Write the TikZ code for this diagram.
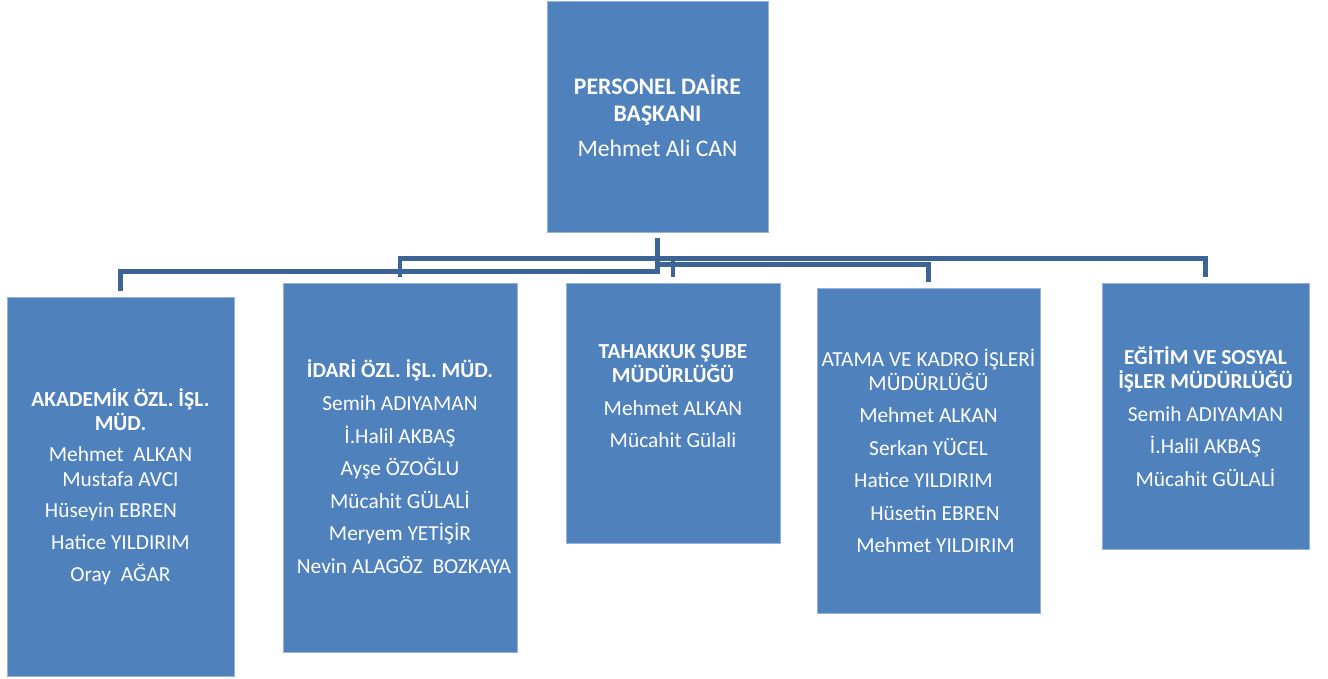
\documentclass[tikz,border=0pt]{standalone}
\usepackage{fontspec}
\setmainfont{Carlito}
\definecolor{boxblue}{RGB}{79,129,189}
\definecolor{boxedge}{RGB}{150,180,215}
\definecolor{connblue}{RGB}{60,100,150}
\tikzset{
  orgbox/.style={rectangle, fill=boxblue, draw=boxedge, line width=0.8pt, inner sep=0pt},
  orgtxt/.style={text=white, align=center, inner sep=0pt, font=\fontsize{21.4}{24}\selectfont},
  toptxt/.style={text=white, align=center, inner sep=0pt, font=\fontsize{23.7}{27}\selectfont},
  conn/.style={draw=connblue, line width=4.6pt, shorten <=6pt, shorten >=6pt}
}
\begin{document}
\begin{tikzpicture}[x=1pt,y={(0pt,-1pt)}]
\useasboundingbox (0,0) rectangle (1328,679);
% boxes
\node[orgbox, minimum width=221pt, minimum height=231pt] (top) at (657.5,116.5) {};
\node[orgbox, minimum width=227pt, minimum height=379pt] (b1) at (120.5,486.5) {};
\node[orgbox, minimum width=234pt, minimum height=369pt] (b2) at (400,467.5) {};
\node[orgbox, minimum width=214pt, minimum height=260pt] (b3) at (673,413) {};
\node[orgbox, minimum width=223pt, minimum height=325pt] (b4) at (928.5,450.5) {};
\node[orgbox, minimum width=207pt, minimum height=266pt] (b5) at (1205.5,416) {};
% texts
\node[toptxt] (t0) at (657.5,115.3) {{\bfseries PERSONEL DAİRE}\\{\bfseries BAŞKANI}\\[8pt]Mehmet Ali CAN};
\node[orgtxt] (t1) at (120.5,486.5) {{\bfseries AKADEMİK ÖZL. İŞL.}\\{\bfseries MÜD.}\\[7pt]Mehmet\ \ ALKAN\\[1pt]Mustafa AVCI\\[7pt]Hüseyin EBREN\hspace*{19pt}\mbox{}\\[8pt]Hatice YILDIRIM\\[8pt]Oray\ \ AĞAR};
\node[orgtxt] (t2) at (400,466.7) {{\bfseries İDARİ ÖZL. İŞL. MÜD.}\\[9pt]Semih ADIYAMAN\\[9pt]İ.Halil AKBAŞ\\[8pt]Ayşe ÖZOĞLU\\[9pt]Mücahit GÜLALİ\\[8pt]Meryem YETİŞİR\\[9pt]\hspace*{8pt}Nevin ALAGÖZ\ \ BOZKAYA};
\node[orgtxt] (t3) at (673,395.8) {{\bfseries TAHAKKUK ŞUBE}\\{\bfseries MÜDÜRLÜĞÜ}\\[9pt]Mehmet ALKAN\\[8pt]Mücahit Gülali};
\node[orgtxt] (t4) at (928.5,450.8) {ATAMA VE KADRO İŞLERİ\\MÜDÜRLÜĞÜ\\[8pt]Mehmet ALKAN\\[9pt]Serkan YÜCEL\\[8pt]Hatice YILDIRIM\hspace*{10pt}\mbox{}\\[9pt]\hspace*{13pt}Hüsetin EBREN\\[8pt]\hspace*{14pt}Mehmet YILDIRIM};
\node[orgtxt] (t5) at (1205.5,416.3) {{\bfseries EĞİTİM VE SOSYAL}\\{\bfseries İŞLER MÜDÜRLÜĞÜ}\\[9pt]Semih ADIYAMAN\\[8pt]İ.Halil AKBAŞ\\[9pt]Mücahit GÜLALİ};
% connectors
\draw[conn] (top.south) -- ++(0,39) -| (b1.north);
\draw[conn] (top.south) -- ++(0,26) -| (b2.north);
\draw[conn] (top.south) -- ++(0,26) -| (b3.north);
\draw[conn] (top.south) -- ++(0,32) -| (b4.north);
\draw[conn] (top.south) -- ++(0,26) -| (b5.north);
\end{tikzpicture}
\end{document}
